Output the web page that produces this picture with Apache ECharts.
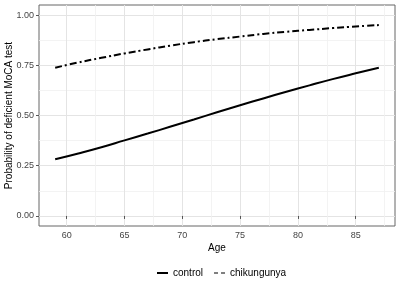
<!DOCTYPE html>
<html><head><meta charset="utf-8">
<script src="https://cdn.jsdelivr.net/npm/echarts@6/dist/echarts.min.js"></script>
<style>html,body{margin:0;padding:0;background:#fff}#c{width:400px;height:281px}</style>
</head><body><div id="c"></div>
<script>
const ages = [59,61,63,65,67,69,71,73,75,77,79,81,83,85,87];
const control = [0.282,0.311,0.342,0.376,0.410,0.445,0.480,0.516,0.551,0.585,0.618,0.650,0.681,0.710,0.738];
const chikungunya = [0.738,0.764,0.787,0.809,0.829,0.848,0.865,0.880,0.893,0.906,0.917,0.926,0.935,0.943,0.950];
const xTicks = [60,65,70,75,80,85];
const xMinor = [57.5,62.5,67.5,72.5,77.5,82.5,87.5];
const yTicks = [0,0.25,0.5,0.75,1];
const yMinor = [0.125,0.375,0.625,0.875];
const seriesNames = ['control','chikungunya'];

const font = '"Liberation Sans", Arial, sans-serif';
const xr = {min:57.6, max:88.4};
const yr = {min:-0.05, max:1.05};
const chart = echarts.init(document.getElementById('c'), null, {renderer:'canvas'});
chart.setOption({
  animation:false,
  backgroundColor:'#fff',
  grid:{left:39,right:5,top:5,bottom:55,containLabel:false,outerBoundsMode:'none',show:true,borderColor:'#666',borderWidth:1,backgroundColor:'transparent'},
  legend:{
    bottom:3, left:157, padding:0, itemWidth:11, itemHeight:2, itemGap:11,
    textStyle:{fontFamily:font,fontSize:10,color:'#000'},
    data:[
      {name:'control', icon:'rect', itemStyle:{color:'#000'}},
      {name:'chikungunya', icon:'path://M0,0 L4,0 L4,1 L0,1 Z M7,0 L11,0 L11,1 L7,1 Z', itemStyle:{color:'#000'}}
    ]
  },
  xAxis:[
    {type:'value', ...xr, name:'Age', nameLocation:'middle', nameGap:17, nameMoveOverlap:false,
     nameTextStyle:{fontFamily:font,fontSize:10,color:'#000',verticalAlign:'top'},
     axisLine:{show:false},
     axisTick:{show:true, length:3, lineStyle:{color:'#555'}, customValues:xTicks},
     axisLabel:{fontFamily:font,fontSize:9,color:'#444',margin:5, customValues:xTicks},
     splitLine:{show:true,lineStyle:{color:'#e4e4e4',width:1}}},
    {type:'value', ...xr, position:'bottom', axisLine:{show:false},
     axisTick:{show:false, customValues:xMinor}, axisLabel:{show:false, customValues:xMinor},
     splitLine:{show:true,lineStyle:{color:'#f0f0f0',width:0.8}}}
  ],
  yAxis:[
    {type:'value', ...yr, name:'Probability of deficient MoCA test', nameLocation:'middle', nameGap:25, nameMoveOverlap:false,
     nameTextStyle:{fontFamily:font,fontSize:10,color:'#000'},
     axisLine:{show:false},
     axisTick:{show:true, length:3, lineStyle:{color:'#555'}, customValues:yTicks},
     axisLabel:{fontFamily:font,fontSize:9,color:'#444',margin:5, customValues:yTicks, formatter:v=>Number(v).toFixed(2)},
     splitLine:{show:true,lineStyle:{color:'#e4e4e4',width:1}}},
    {type:'value', ...yr, position:'left', axisLine:{show:false},
     axisTick:{show:false, customValues:yMinor}, axisLabel:{show:false, customValues:yMinor},
     splitLine:{show:true,lineStyle:{color:'#f0f0f0',width:0.8}}}
  ],
  series:[
    {name:seriesNames[0], type:'line', xAxisIndex:0, yAxisIndex:0, smooth:true, showSymbol:false,
     data:ages.map((a,i)=>[a,control[i]]), lineStyle:{color:'#000',width:2}, itemStyle:{color:'#000'}, z:5},
    {name:seriesNames[1], type:'line', xAxisIndex:0, yAxisIndex:0, smooth:true, showSymbol:false,
     data:ages.map((a,i)=>[a,chikungunya[i]]), lineStyle:{color:'#000',width:2,type:[7,3,2,3]}, itemStyle:{color:'#000'}, z:5}
  ]
});
</script></body></html>
